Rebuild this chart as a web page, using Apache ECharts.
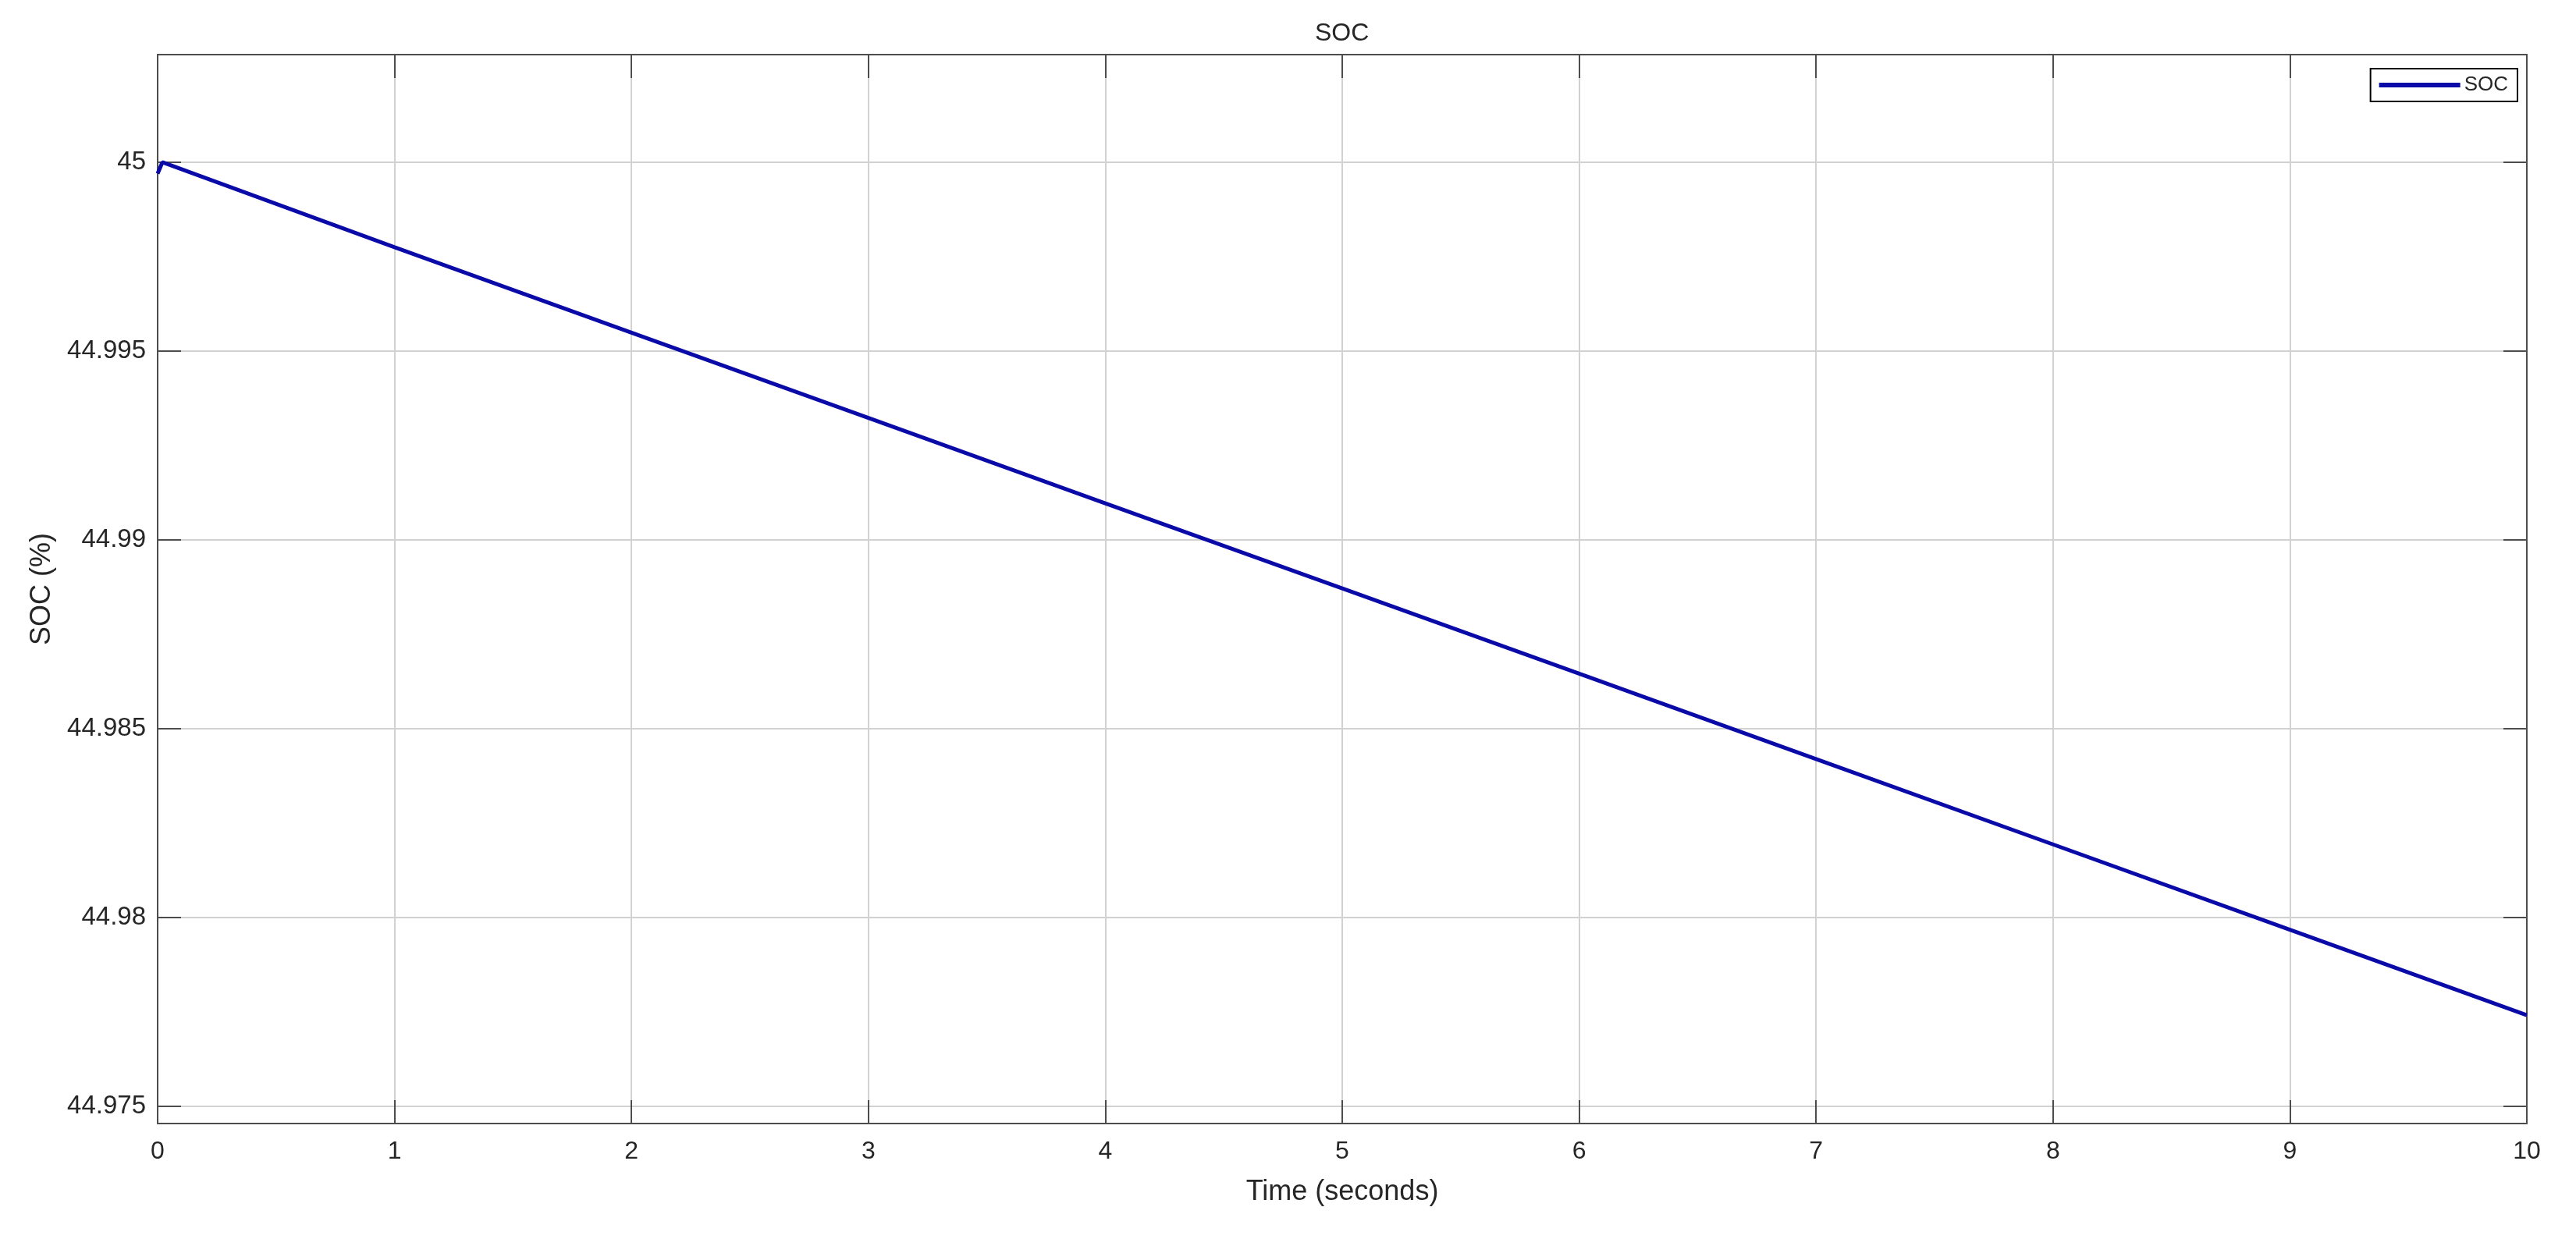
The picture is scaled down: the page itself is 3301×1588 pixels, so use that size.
<!DOCTYPE html>
<html>
<head>
<meta charset="utf-8">
<script src="https://cdn.jsdelivr.net/npm/echarts@6/dist/echarts.min.js"></script>
<style>
html,body{margin:0;padding:0;background:#fff;}
#chart{width:3301px;height:1588px;}
</style>
</head>
<body>
<div id="chart"></div>
<script>
// Data
var timeSeconds = [0, 0.02, 1, 2, 3, 4, 5, 6, 7, 8, 9, 10];
var socValues = [44.99970, 45.00000, 44.99775, 44.99549, 44.99323, 44.99097, 44.98872, 44.98646, 44.98420, 44.98194, 44.97968, 44.97742];
var seriesName = 'SOC';
var titleText = 'SOC';
var xAxisName = 'Time (seconds)';
var yAxisName = 'SOC (%)';

var pairs = timeSeconds.map(function (t, i) { return [t, socValues[i]]; });

var FONT = '"Liberation Sans", Arial, Helvetica, sans-serif';
var BORDER = '#4d4d4d';
var GRID = '#d2d2d2';
var TEXT = '#262626';
var LINE = '#0a0aa8';
var Y_MIN = 44.97455, Y_MAX = 45.00285;

var chart = echarts.init(document.getElementById('chart'), null, {renderer: 'canvas'});
chart.setOption({
  backgroundColor: '#ffffff',
  animation: false,
  title: {
    text: titleText,
    left: 1685,
    top: 27,
    padding: 0,
    textStyle: {fontFamily: FONT, fontSize: 32, fontWeight: 'normal', color: TEXT}
  },
  legend: {
    data: [{name: seriesName, icon: 'rect'}],
    right: 75,
    top: 88,
    orient: 'vertical',
    padding: [8, 12, 8, 11],
    itemWidth: 104,
    itemHeight: 6,
    borderColor: '#000',
    borderWidth: 2,
    backgroundColor: '#fff',
    borderRadius: 0,
    itemStyle: {color: LINE},
    textStyle: {fontFamily: FONT, fontSize: 26, color: TEXT}
  },
  grid: {left: 202, right: 63, top: 70, bottom: 148, containLabel: false},
  xAxis: [{
    type: 'value',
    min: 0, max: 10, interval: 1,
    name: xAxisName,
    nameLocation: 'middle',
    nameGap: 70,
    nameTextStyle: {fontFamily: FONT, fontSize: 36, color: TEXT},
    axisLine: {show: true, onZero: false, lineStyle: {color: BORDER, width: 2}},
    axisTick: {show: true, inside: true, length: 30, lineStyle: {color: BORDER, width: 2}},
    axisLabel: {margin: 20, fontFamily: FONT, fontSize: 32, color: TEXT},
    splitLine: {show: true, lineStyle: {color: GRID, width: 2}}
  }, {
    type: 'value',
    position: 'top',
    min: 0, max: 10, interval: 1,
    axisLine: {show: true, onZero: false, lineStyle: {color: BORDER, width: 2}},
    axisTick: {show: true, inside: true, length: 30, lineStyle: {color: BORDER, width: 2}},
    axisLabel: {show: false},
    splitLine: {show: false}
  }],
  yAxis: [{
    type: 'value',
    min: Y_MIN, max: Y_MAX, splitNumber: 5,
    name: yAxisName,
    nameLocation: 'middle',
    nameGap: 130,
    nameTextStyle: {fontFamily: FONT, fontSize: 36, color: TEXT},
    axisLine: {show: true, onZero: false, lineStyle: {color: BORDER, width: 2}},
    axisTick: {show: true, inside: true, length: 30, lineStyle: {color: BORDER, width: 2}},
    axisLabel: {margin: 15, fontFamily: FONT, fontSize: 33, color: TEXT, showMinLabel: false, showMaxLabel: false,
      formatter: function (v) { return String(parseFloat(v.toFixed(4))); }},
    splitLine: {show: true, lineStyle: {color: GRID, width: 2}}
  }, {
    type: 'value',
    position: 'right',
    min: Y_MIN, max: Y_MAX, splitNumber: 5,
    axisLine: {show: true, onZero: false, lineStyle: {color: BORDER, width: 2}},
    axisTick: {show: true, inside: true, length: 30, lineStyle: {color: BORDER, width: 2}},
    axisLabel: {show: false},
    splitLine: {show: false}
  }],
  series: [{
    name: seriesName,
    type: 'line',
    xAxisIndex: 0,
    yAxisIndex: 0,
    data: pairs,
    symbol: 'none',
    lineStyle: {color: LINE, width: 5},
    itemStyle: {color: LINE}
  }]
});
</script>
</body>
</html>
